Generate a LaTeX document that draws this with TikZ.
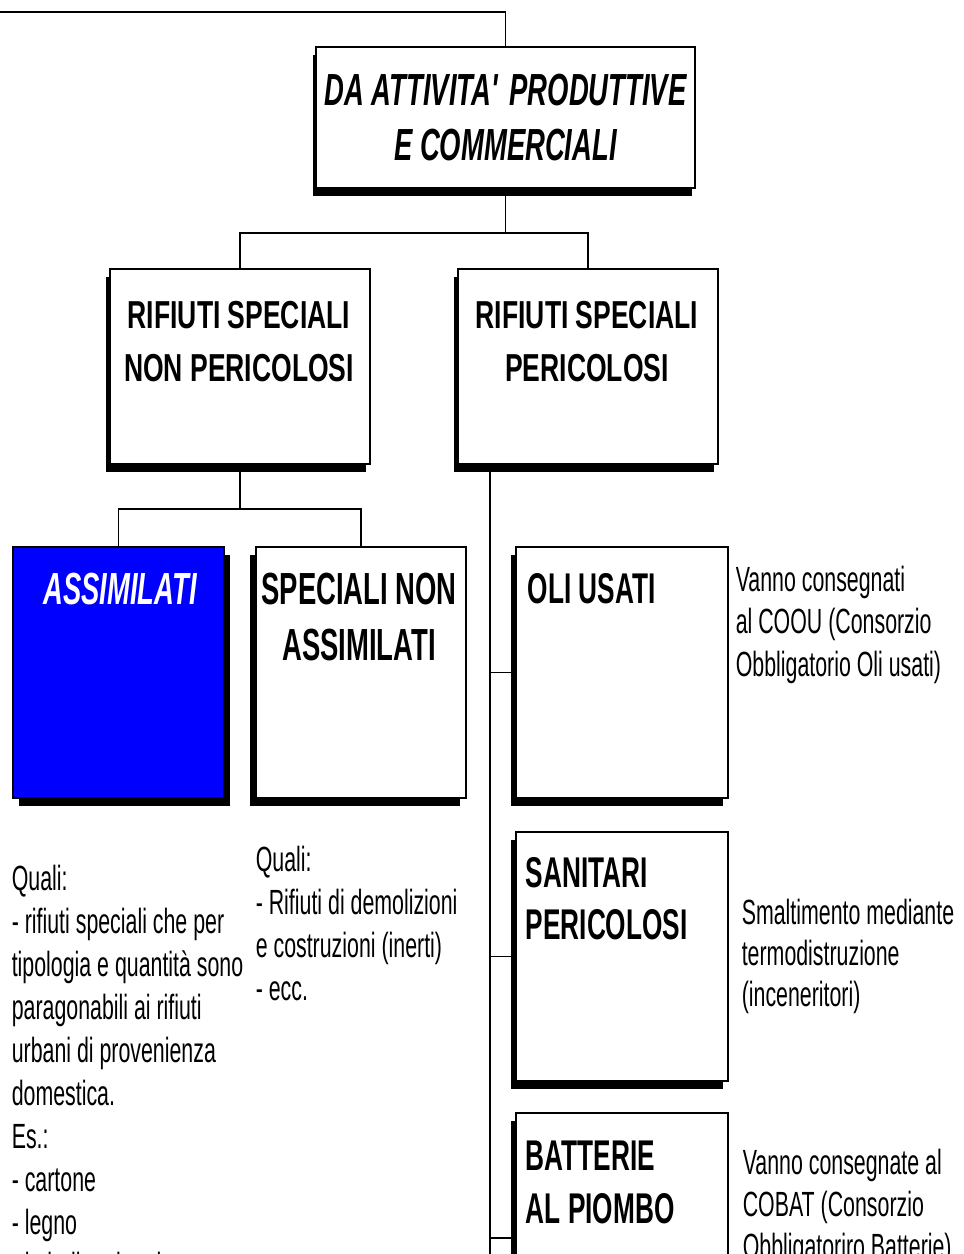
\documentclass[tikz,border=0pt]{standalone}
\usepackage{fontspec}
\usetikzlibrary{shadows}
\newfontfamily\condfont[FakeStretch=0.61]{Liberation Sans}
\newfontfamily\rsfont[FakeStretch=0.68]{Liberation Sans}

\begin{document}
\begin{tikzpicture}[x=1pt, y=-1pt, line width=1.6pt,
		wastebox/.style={draw, fill=white, inner sep=0pt, drop shadow={shadow xshift=#1, shadow yshift=-8pt, fill=black, opacity=1}},
		wastebox/.default=-5pt,
		boxlabel/.style={inner sep=0pt, font=\condfont\bfseries\fontsize{43}{53}\selectfont},
		notetext/.style={inner sep=0pt, anchor=north west, align=left, font=\condfont\fontsize{35}{43}\selectfont}]
	% Paths, nodes and wires:
	\useasboundingbox (0,0) rectangle (964,1254);
	\clip (0,0) rectangle (964,1254);
	\coordinate (topleft) at (0,12);
	\coordinate (fork1) at (505.5,233);
	\coordinate (fork2) at (240,509);
	\coordinate (trunktop) at (490,464);
	\coordinate (trunkend) at (490,1260);
	\node[wastebox=-3pt, minimum width=379pt, minimum height=141pt, align=center, font=\condfont\bfseries\itshape\fontsize{45}{55}\selectfont] (origin) at (505.5,117.5) {DA ATTIVITA\textquotesingle{} PRODUTTIVE\\E COMMERCIALI};
	\node[wastebox=-4pt, minimum width=260pt, minimum height=195pt] (rsnp) at (240,366.5) {};
	\node[wastebox=-4pt, minimum width=260pt, minimum height=195pt] (rsp) at (588,366.5) {};
	\node[wastebox=6pt, fill=blue, minimum width=211pt, minimum height=251pt] (assim) at (118.5,672.5) {};
	\node[wastebox=-6pt, minimum width=210pt, minimum height=251pt] (sna) at (361,672.5) {};
	\node[wastebox, minimum width=212pt, minimum height=251pt] (oli) at (622,672.5) {};
	\node[wastebox, minimum width=212pt, minimum height=249pt] (sanit) at (622,956.5) {};
	\node[wastebox, minimum width=212pt, minimum height=250pt] (batt) at (622,1238) {};
	\draw (topleft) -| (origin.north);
	\draw (origin.south) -- (fork1);
	\draw (rsnp.north) |- (fork1) -| (rsp.north);
	\draw (rsnp.south) -- (fork2);
	\draw (assim.north) |- (fork2) -| (sna.north);
	\draw (trunktop) -- (trunkend);
	\draw (trunktop |- oli.west) -- (oli.west);
	\draw (trunktop |- sanit.west) -- (sanit.west);
	\draw (trunktop |- batt.west) -- (batt.west);
	\node[boxlabel, anchor=north, align=center, font=\rsfont\bfseries\fontsize{39}{53}\selectfont] (rsnp-label) at (239,300) {RIFIUTI SPECIALI\\NON PERICOLOSI};
	\node[boxlabel, anchor=north, align=center, font=\rsfont\bfseries\fontsize{39}{53}\selectfont] (rsp-label) at (587,300) {RIFIUTI SPECIALI\\PERICOLOSI};
	\node[boxlabel, anchor=north, text=white, font=\condfont\bfseries\itshape\fontsize{45}{56}\selectfont] (assim-label) at (120,572) {ASSIMILATI};
	\node[boxlabel, anchor=north, align=center, font=\condfont\bfseries\fontsize{45}{56}\selectfont] (sna-label) at (359,572) {SPECIALI NON\\ASSIMILATI};
	\node[boxlabel, anchor=north west] (oli-label) at (527,573) {OLI USATI};
	\node[boxlabel, anchor=north west, align=left, font=\condfont\bfseries\fontsize{43}{52}\selectfont] (sanit-label) at (525,857) {SANITARI\\PERICOLOSI};
	\node[boxlabel, anchor=north west, align=left] (batt-label) at (525,1140) {BATTERIE\\AL PIOMBO};
	\node[notetext] (assim-note) at (11,864) {Quali:\\- rifiuti speciali che per\\tipologia e quantità sono\\paragonabili ai rifiuti\\urbani di provenienza\\domestica.\\Es.:\\- cartone\\- legno\\- imballaggi vari};
	\node[notetext] (sna-note) at (255,845) {Quali:\\- Rifiuti di demolizioni\\e costruzioni (inerti)\\- ecc.};
	\node[notetext, font=\condfont\fontsize{35}{42.5}\selectfont] (oli-note) at (735,565) {Vanno consegnati\\al COOU (Consorzio\\Obbligatorio Oli usati)};
	\node[notetext, font=\condfont\fontsize{35}{41}\selectfont] (sanit-note) at (741,898) {Smaltimento mediante\\termodistruzione\\(inceneritori)};
	\node[notetext, font=\condfont\fontsize{35}{42}\selectfont] (batt-note) at (742,1148) {Vanno consegnate al\\COBAT (Consorzio\\Obbligatoriro Batterie)};
\end{tikzpicture}
\end{document}
